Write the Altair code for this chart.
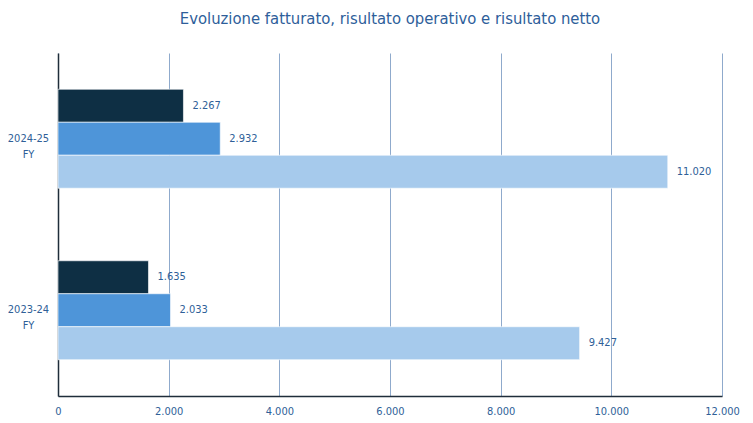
import altair as alt
import pandas as pd

years = ["2024-25 FY", "2023-24 FY"]
series = ["Risultato netto", "Risultato operativo", "Fatturato"]
values_2024 = [2267, 2932, 11020]
values_2023 = [1635, 2033, 9427]
colors = ["#0E2F44", "#4E95D9", "#A6CAEC"]
x_ticks = [0, 2000, 4000, 6000, 8000, 10000, 12000]

rows = []
for y, vals in zip(years, [values_2024, values_2023]):
    for s, v in zip(series, vals):
        rows.append({"anno": y, "serie": s, "valore": v})
df = pd.DataFrame(rows)

FONT = "DejaVu Sans Condensed, sans-serif"
TXT = "#2F5F98"

base = alt.Chart(df).encode(
    y=alt.Y("anno:N", sort=years,
            scale=alt.Scale(paddingInner=0.423, paddingOuter=0.2115),
            axis=alt.Axis(title=None, labelExpr="split(datum.value, ' ')",
                          labelAlign="center", labelBaseline="middle",
                          labelPadding=30, tickSize=0, ticks=False,
                          labelLineHeight=16, labelFontSize=11,
                          labelColor=TXT, labelFont=FONT,
                          domainColor="#1F2D3A", domainWidth=1.5, grid=False)),
    yOffset=alt.YOffset("serie:N", sort=series),
)

bars = base.mark_bar(stroke="#ffffff", strokeWidth=1, strokeOpacity=0.6).encode(
    x=alt.X("valore:Q", scale=alt.Scale(domain=[0, 12000]),
            axis=alt.Axis(title=None, values=x_ticks,
                          labelExpr="replace(format(datum.value, ','), ',', '.')",
                          labelColor=TXT, labelFont=FONT, labelFontSize=11,
                          labelPadding=9, labelFlush=False,
                          ticks=False, tickSize=0,
                          domainColor="#1F2D3A", domainWidth=1.5,
                          grid=True, gridColor="#8FAACC", gridWidth=1)),
    color=alt.Color("serie:N", sort=series,
                    scale=alt.Scale(domain=series, range=colors), legend=None),
)

labels = base.transform_calculate(
    lab="replace(format(datum.valore, ','), ',', '.')"
).mark_text(align="left", baseline="middle", dx=9, font=FONT,
            fontSize=11, color=TXT).encode(
    x=alt.X("valore:Q"),
    text="lab:N",
)

chart = (bars + labels).properties(
    width=664, height=343,
    title=alt.TitleParams("Evoluzione fatturato, risultato operativo e risultato netto",
                          font=FONT, fontSize=16.5, fontWeight="normal",
                          color="#2E5E9A", anchor="middle", offset=26),
    autosize=alt.AutoSizeParams(type="none"),
    padding={"left": 50, "top": 45, "right": 23, "bottom": 24},
).configure_view(stroke=None)

chart.save("out.html", embed_options={"renderer": "svg", "actions": False})
